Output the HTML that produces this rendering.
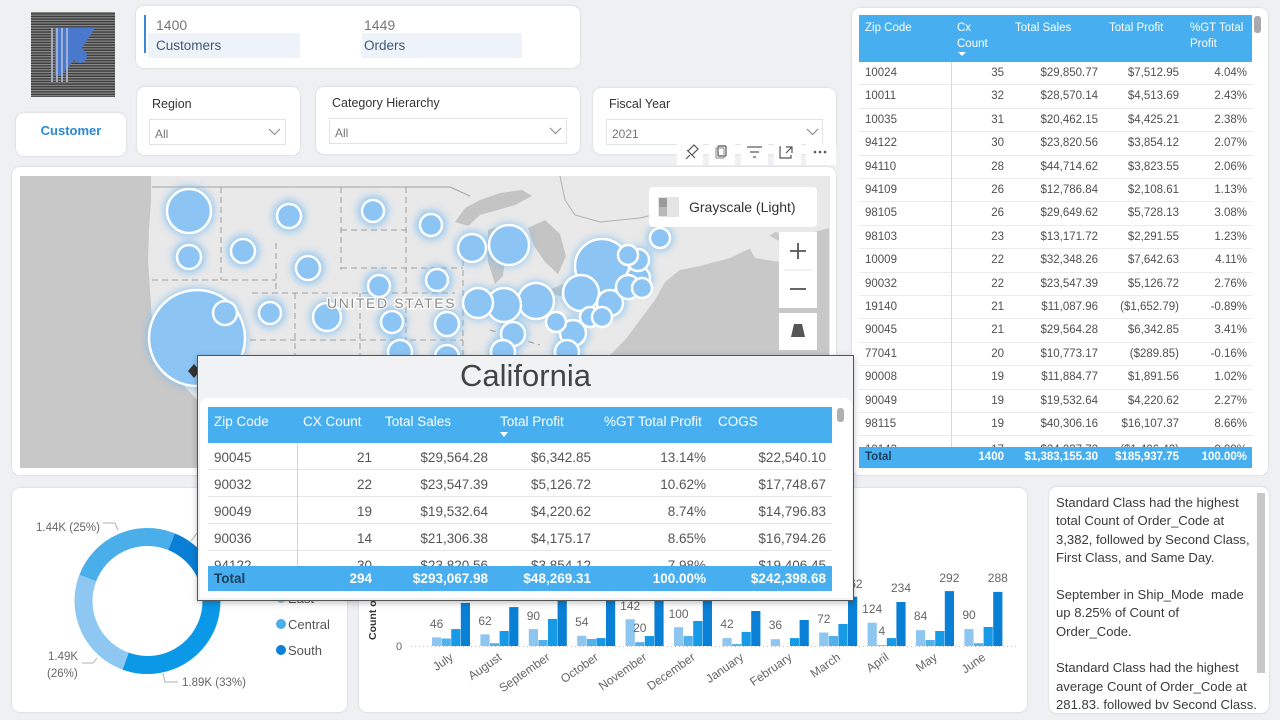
<!DOCTYPE html>
<html><head><meta charset="utf-8">
<style>
*{margin:0;padding:0;box-sizing:border-box}
body{width:1280px;height:720px;background:#eef0f3;font-family:"Liberation Sans",sans-serif;position:relative;overflow:hidden;color:#333}
.card{position:absolute;background:#fff;border-radius:8px;box-shadow:0 0 2px rgba(0,0,0,.16)}
.abs{position:absolute}
.lbl{position:absolute;font-size:12.5px;color:#333;white-space:nowrap}
.dd{position:absolute;background:#fff;border:1px solid #e4e4e4;font-size:12px;color:#777}
.dd span{position:absolute;left:5px;top:7px}
.dd svg{position:absolute;top:8px}
.rt{position:absolute;left:859px;top:15px;width:393px;height:453px;overflow:hidden;font-size:11.5px;color:#505050}
.rt .rw{position:absolute;left:0;width:393px;height:23.4px;line-height:23px;border-bottom:1px solid #ebebeb}
.rt span{position:absolute;white-space:nowrap}
.rt .a{left:6px}.rt .b{right:248px}.rt .c{right:154px}.rt .d{right:73px}.rt .e{right:5px}
.rh{position:absolute;left:0;top:0;width:393px;height:47px;background:#47aff0;color:#fff;line-height:16px}
.rh span{top:5px}
.rtot{position:absolute;left:0;top:432px;width:393px;height:21px;line-height:21px;background:#47aff0;color:#fff;font-weight:bold}
.pt{position:absolute;left:208px;top:407px;width:624px;height:184px;overflow:hidden;font-size:13.5px;color:#555}
.pt span{position:absolute;white-space:nowrap}
.pt .rw{position:absolute;left:0;width:624px;height:27px;line-height:29px;border-bottom:1px solid #e6e6e6}
.pt .a{left:6px}.pt .b{right:460px}.pt .c{right:344px}.pt .d{right:241px}.pt .e{right:126px}.pt .f{right:6px}
.ph{position:absolute;left:0;top:0;width:624px;height:36px;background:#47aff0;color:#fff}
.ph span{top:7px;line-height:16px}
.ptot{position:absolute;left:0;top:159px;width:624px;height:25px;line-height:25px;background:#47aff0;color:#fff;font-weight:bold}
.tx{position:absolute;left:1056px;font-size:13.1px;color:#3c3c3c;white-space:nowrap}
</style></head><body>

<!-- Logo -->
<svg class="abs" style="left:31px;top:12px" width="84" height="85" viewBox="0 0 84 85">
<defs><pattern id="ln" width="84" height="2.6" patternUnits="userSpaceOnUse"><rect y="0" width="84" height="1.1" fill="#8e8e8e"/></pattern></defs>
<rect width="84" height="85" fill="#3e3e3e"/>
<rect width="84" height="85" fill="url(#ln)"/>
<polygon points="24,16 64,16 43,48 30,64 24,64" fill="#4a78cc"/>
<g stroke="#b4bfd6" stroke-width="1.6"><line x1="21" y1="16" x2="21" y2="70"/><line x1="26" y1="16" x2="26" y2="70"/><line x1="31" y1="16" x2="31" y2="70"/><line x1="36" y1="16" x2="36" y2="70"/></g>
<circle cx="49" cy="44" r="7" fill="#4a78cc"/>
</svg>

<!-- KPI card -->
<div class="card" style="left:136px;top:6px;width:444px;height:62px"></div>
<div class="abs" style="left:144px;top:15px;width:2px;height:38px;background:#3a86d6"></div>
<div class="abs" style="left:148px;top:33px;width:152px;height:25px;background:#eef3f9"></div>
<div class="abs" style="left:362px;top:33px;width:160px;height:25px;background:#eef3f9"></div>
<div class="abs" style="left:156px;top:17px;font-size:14px;color:#777">1400</div>
<div class="abs" style="left:156px;top:38px;font-size:13.5px;color:#3f5a78">Customers</div>
<div class="abs" style="left:364px;top:17px;font-size:14px;color:#777">1449</div>
<div class="abs" style="left:364px;top:38px;font-size:13.5px;color:#3f5a78">Orders</div>

<!-- Customer button -->
<div class="card" style="left:16px;top:113px;width:110px;height:43px"></div>
<div class="abs" style="left:16px;top:123px;width:110px;text-align:center;font-size:13px;font-weight:bold;color:#2b88d8">Customer</div>

<!-- Region -->
<div class="card" style="left:137px;top:87px;width:163px;height:68px"></div>
<div class="lbl" style="left:152px;top:97px">Region</div>
<div class="dd" style="left:149px;top:119px;width:137px;height:26px"><span>All</span>
<svg style="left:118px" width="13" height="8"><polyline points="1,1 6.5,6.5 12,1" fill="none" stroke="#888" stroke-width="1.1"/></svg></div>

<!-- Category -->
<div class="card" style="left:316px;top:87px;width:264px;height:67px"></div>
<div class="lbl" style="left:332px;top:96px">Category Hierarchy</div>
<div class="dd" style="left:329px;top:118px;width:238px;height:26px"><span>All</span>
<svg style="left:219px" width="13" height="8"><polyline points="1,1 6.5,6.5 12,1" fill="none" stroke="#888" stroke-width="1.1"/></svg></div>

<!-- Fiscal -->
<div class="card" style="left:593px;top:88px;width:243px;height:66px"></div>
<div class="lbl" style="left:609px;top:97px">Fiscal Year</div>
<div class="dd" style="left:606px;top:119px;width:217px;height:26px"><span>2021</span>
<svg style="left:199px" width="13" height="8"><polyline points="1,1 6.5,6.5 12,1" fill="none" stroke="#888" stroke-width="1.1"/></svg></div>

<!-- Map card -->
<div class="card" style="left:12px;top:167px;width:824px;height:308px"></div>

<!-- header icons -->
<svg class="abs" style="left:676px;top:142px" width="162" height="24" viewBox="676 142 162 24">
<rect x="677" y="143" width="26" height="22" fill="#fff"/><rect x="709" y="143" width="26" height="22" fill="#fff"/>
<rect x="741" y="143" width="27" height="22" fill="#fff"/><rect x="774" y="143" width="27" height="22" fill="#fff"/><rect x="806" y="143" width="30" height="22" fill="#fff"/>
<g fill="none" stroke="#555" stroke-width="1.2">
<path d="M686,159 L690,155 M688,151 L694,145 L698,149 L692,155 Z M687,150 L695,158"/>
<rect x="718" y="146" width="8" height="10" rx="1"/><rect x="716" y="148" width="8" height="10" rx="1" stroke="#999"/>
<line x1="747" y1="147" x2="762" y2="147"/><line x1="750" y1="152" x2="759" y2="152"/><line x1="753" y1="157" x2="756" y2="157"/>
<path d="M781,147 h-1 v11 h11 v-3 M786,147 h6 v6 M792,147 l-6,6"/>
</g>
<g fill="#555"><circle cx="815" cy="152" r="1.3"/><circle cx="820" cy="152" r="1.3"/><circle cx="825" cy="152" r="1.3"/></g>
</svg>

<!-- Map -->
<svg class="abs" style="left:20px;top:176px" width="810" height="292" viewBox="20 176 810 292">
<defs><filter id="gl" x="-50%" y="-50%" width="200%" height="200%"><feGaussianBlur stdDeviation="4"/></filter></defs>
<rect x="20" y="176" width="810" height="292" fill="#e9e9e9"/>
<polygon points="20,176 151,176 151,200 149,230 148,260 150,290 152,320 170,370 197,400 197,468 20,468" fill="#c8c8c8"/>
<polygon points="829,228 800,236 775,232 755,246 730,258 700,266 680,270 665,282 655,300 640,320 625,340 610,355 600,370 829,370" fill="#c8c8c8"/>
<polygon points="745,240 770,236 795,250 780,262 755,258" fill="#e9e9e9"/>
<polygon points="455,222 465,208 480,200 500,193 522,190 532,196 515,205 498,210 480,215 468,226" fill="#c4c4c4"/>
<polygon points="488,230 500,226 506,250 503,276 495,284 488,262" fill="#c4c4c4"/>
<polygon points="528,228 545,220 560,234 566,256 558,274 545,262 534,246" fill="#c4c4c4"/>
<polygon points="545,292 570,281 592,274 586,286 560,296" fill="#c4c4c4"/>
<polygon points="588,268 605,262 622,262 613,270 595,273" fill="#c4c4c4"/>
<polyline points="152,187 450,187 470,196" fill="none" stroke="#a5a5a5" stroke-width="1"/>
<polyline points="560,176 565,200 575,215 600,222 640,218 680,208" fill="none" stroke="#b0b0b0" stroke-width="1"/>
<g fill="none" stroke="#a0a0a0" stroke-width="1" stroke-dasharray="6 4">
<line x1="221" y1="187" x2="221" y2="280"/><line x1="152" y1="280" x2="276" y2="280"/>
<line x1="276" y1="243" x2="276" y2="293"/><line x1="341" y1="187" x2="341" y2="270"/>
<line x1="341" y1="230" x2="410" y2="230"/><line x1="406" y1="187" x2="406" y2="340"/>
<line x1="341" y1="268" x2="463" y2="268"/><line x1="252" y1="293" x2="455" y2="293"/>
<line x1="295" y1="293" x2="295" y2="355"/><line x1="250" y1="340" x2="463" y2="340"/>
<line x1="360" y1="293" x2="360" y2="355"/><line x1="463" y1="260" x2="463" y2="355"/>
<line x1="520" y1="300" x2="560" y2="300"/><line x1="490" y1="330" x2="540" y2="345"/>
</g>
<g filter="url(#gl)" fill="#6fb9f3" opacity="0.75">
<circle cx="189" cy="211" r="25"/><circle cx="189" cy="257" r="16"/><circle cx="243" cy="251" r="16"/><circle cx="289" cy="216" r="16"/><circle cx="373" cy="211" r="15"/><circle cx="431" cy="225" r="15"/><circle cx="472" cy="248" r="17"/><circle cx="509" cy="245" r="22"/><circle cx="308" cy="268" r="16"/><circle cx="379" cy="286" r="15"/><circle cx="437" cy="280" r="15"/><circle cx="225" cy="313" r="15"/><circle cx="270" cy="313" r="15"/><circle cx="327" cy="317" r="17"/><circle cx="392" cy="322" r="15"/><circle cx="447" cy="324" r="15"/><circle cx="478" cy="303" r="17"/><circle cx="504" cy="305" r="19"/><circle cx="536" cy="301" r="20"/><circle cx="513" cy="334" r="15"/><circle cx="503" cy="352" r="15"/><circle cx="400" cy="352" r="15"/><circle cx="447" cy="357" r="15"/><circle cx="581" cy="293" r="20"/><circle cx="602" cy="266" r="29"/><circle cx="573" cy="333" r="16"/><circle cx="610" cy="303" r="16"/><circle cx="638" cy="260" r="14"/><circle cx="660" cy="238" r="13"/><circle cx="638" cy="278" r="15"/><circle cx="567" cy="352" r="15"/><circle cx="197" cy="338" r="50"/>
</g>
<g fill="#8cc4f4" stroke="#fff" stroke-width="2.5">
<circle cx="197" cy="338" r="48"/><circle cx="602" cy="266" r="27"/><circle cx="189" cy="211" r="22"/><circle cx="509" cy="245" r="20"/>
<circle cx="581" cy="293" r="18"/><circle cx="536" cy="301" r="18"/><circle cx="504" cy="305" r="17"/><circle cx="478" cy="303" r="15"/>
<circle cx="472" cy="248" r="14"/><circle cx="327" cy="317" r="14"/><circle cx="573" cy="333" r="13"/><circle cx="610" cy="303" r="13"/>
<circle cx="189" cy="257" r="12"/><circle cx="243" cy="251" r="12"/><circle cx="289" cy="216" r="12"/><circle cx="308" cy="268" r="12"/>
<circle cx="225" cy="313" r="12"/><circle cx="447" cy="324" r="12"/><circle cx="513" cy="334" r="12"/><circle cx="503" cy="352" r="12"/>
<circle cx="400" cy="352" r="12"/><circle cx="447" cy="357" r="12"/><circle cx="638" cy="278" r="12"/><circle cx="628" cy="287" r="12"/>
<circle cx="567" cy="352" r="12"/><circle cx="373" cy="211" r="11"/><circle cx="431" cy="225" r="11"/><circle cx="379" cy="286" r="11"/>
<circle cx="437" cy="280" r="11"/><circle cx="270" cy="313" r="11"/><circle cx="392" cy="322" r="11"/><circle cx="638" cy="260" r="11"/>
<circle cx="556" cy="322" r="10"/><circle cx="590" cy="317" r="10"/><circle cx="602" cy="317" r="10"/><circle cx="628" cy="255" r="10"/>
<circle cx="660" cy="238" r="10"/><circle cx="642" cy="288" r="10"/>
</g>
<text x="327" y="308" font-family="Liberation Sans" font-size="14" letter-spacing="1.6" fill="#8a8a8a" stroke="#fff" stroke-width="2.5" paint-order="stroke">UNITED STATES</text>
<polygon points="194,364 200,371 194,378 188,371" fill="#333"/>
<!-- grayscale button -->
<rect x="649" y="187" width="168" height="40" rx="4" fill="#fff"/>
<rect x="658" y="197" width="21" height="20" rx="2" fill="#e4e4e4"/>
<rect x="659" y="198" width="8" height="9" fill="#9a9a9a"/><rect x="659" y="207" width="8" height="9" fill="#b8b8b8"/>
<text x="689" y="212" font-family="Liberation Sans" font-size="14" fill="#333">Grayscale (Light)</text>
<rect x="779" y="232" width="38" height="76" fill="#fff"/>
<line x1="784" y1="270" x2="812" y2="270" stroke="#e6e6e6"/>
<path d="M798,243 v16 M790,251 h16" stroke="#555" stroke-width="1.8"/>
<path d="M790,289 h16" stroke="#555" stroke-width="1.8"/>
<rect x="779" y="313" width="38" height="37" fill="#fff"/>
<polygon points="794,324 802,324 805,337 791,337" fill="#555"/>
</svg>

<!-- Right table card -->
<div class="card" style="left:852px;top:8px;width:416px;height:467px"></div>
<div class="rt">
<div class="rh"><span class="a">Zip Code</span><span style="left:98px">Cx<br>Count</span><span style="left:156px">Total Sales</span><span style="left:250px">Total Profit</span><span style="left:331px">%GT Total<br>Profit</span>
<div style="position:absolute;left:99px;top:37px;width:0;height:0;border-left:4px solid transparent;border-right:4px solid transparent;border-top:4px solid #fff"></div></div>
<div class="rw" style="top:47px"><span class="a">10024</span><span class="b">35</span><span class="c">$29,850.77</span><span class="d">$7,512.95</span><span class="e">4.04%</span></div>
<div class="rw" style="top:70.4px"><span class="a">10011</span><span class="b">32</span><span class="c">$28,570.14</span><span class="d">$4,513.69</span><span class="e">2.43%</span></div>
<div class="rw" style="top:93.8px"><span class="a">10035</span><span class="b">31</span><span class="c">$20,462.15</span><span class="d">$4,425.21</span><span class="e">2.38%</span></div>
<div class="rw" style="top:117.2px"><span class="a">94122</span><span class="b">30</span><span class="c">$23,820.56</span><span class="d">$3,854.12</span><span class="e">2.07%</span></div>
<div class="rw" style="top:140.6px"><span class="a">94110</span><span class="b">28</span><span class="c">$44,714.62</span><span class="d">$3,823.55</span><span class="e">2.06%</span></div>
<div class="rw" style="top:164px"><span class="a">94109</span><span class="b">26</span><span class="c">$12,786.84</span><span class="d">$2,108.61</span><span class="e">1.13%</span></div>
<div class="rw" style="top:187.4px"><span class="a">98105</span><span class="b">26</span><span class="c">$29,649.62</span><span class="d">$5,728.13</span><span class="e">3.08%</span></div>
<div class="rw" style="top:210.8px"><span class="a">98103</span><span class="b">23</span><span class="c">$13,171.72</span><span class="d">$2,291.55</span><span class="e">1.23%</span></div>
<div class="rw" style="top:234.2px"><span class="a">10009</span><span class="b">22</span><span class="c">$32,348.26</span><span class="d">$7,642.63</span><span class="e">4.11%</span></div>
<div class="rw" style="top:257.6px"><span class="a">90032</span><span class="b">22</span><span class="c">$23,547.39</span><span class="d">$5,126.72</span><span class="e">2.76%</span></div>
<div class="rw" style="top:281px"><span class="a">19140</span><span class="b">21</span><span class="c">$11,087.96</span><span class="d">($1,652.79)</span><span class="e">-0.89%</span></div>
<div class="rw" style="top:304.4px"><span class="a">90045</span><span class="b">21</span><span class="c">$29,564.28</span><span class="d">$6,342.85</span><span class="e">3.41%</span></div>
<div class="rw" style="top:327.8px"><span class="a">77041</span><span class="b">20</span><span class="c">$10,773.17</span><span class="d">($289.85)</span><span class="e">-0.16%</span></div>
<div class="rw" style="top:351.2px"><span class="a">90008</span><span class="b">19</span><span class="c">$11,884.77</span><span class="d">$1,891.56</span><span class="e">1.02%</span></div>
<div class="rw" style="top:374.6px"><span class="a">90049</span><span class="b">19</span><span class="c">$19,532.64</span><span class="d">$4,220.62</span><span class="e">2.27%</span></div>
<div class="rw" style="top:398px"><span class="a">98115</span><span class="b">19</span><span class="c">$40,306.16</span><span class="d">$16,107.37</span><span class="e">8.66%</span></div>
<div class="rw" style="top:424px"><span class="a">10143</span><span class="b">17</span><span class="c">$24,037.72</span><span class="d">($1,406.42)</span><span class="e">-0.99%</span></div>
<div style="position:absolute;left:92px;top:47px;width:1px;height:385px;background:#c0dff3"></div>
<div class="rtot"><span class="a" style="color:#1f3d5c">Total</span><span class="b">1400</span><span class="c">$1,383,155.30</span><span class="d">$185,937.75</span><span class="e">100.00%</span></div>
</div>
<div class="abs" style="left:1254px;top:16px;width:7px;height:17px;border-radius:3px;background:#a9a9a9"></div>

<!-- Donut card -->
<div class="card" style="left:12px;top:488px;width:335px;height:224px"></div>
<svg class="abs" style="left:12px;top:488px" width="335" height="224" viewBox="12 488 335 224" font-family="Liberation Sans">
<g fill="none" stroke-width="18">
<circle cx="147.5" cy="601" r="64" stroke="#0a7fd6" stroke-dasharray="65.9 402.1" transform="rotate(-68 147.5 601)"/>
<circle cx="147.5" cy="601" r="64" stroke="#0b98e6" stroke-dasharray="132.9 402.1" transform="rotate(-9 147.5 601)"/>
<circle cx="147.5" cy="601" r="64" stroke="#8dc7f2" stroke-dasharray="101.6 402.1" transform="rotate(110 147.5 601)"/>
<circle cx="147.5" cy="601" r="64" stroke="#4aaeea" stroke-dasharray="101.6 402.1" transform="rotate(201 147.5 601)"/>
</g>
<g fill="none" stroke="#b0b0b0" stroke-width="1">
<polyline points="103,523 115,523 118,530"/><polyline points="82,663 93,663 97,658"/><polyline points="163,673 165,682 178,682"/><polyline points="191,541 197,533"/>
</g>
<g font-size="11.5" fill="#666">
<text x="36" y="531">1.44K (25%)</text>
<text x="48" y="660">1.49K</text><text x="47" y="677">(26%)</text>
<text x="182" y="686">1.89K (33%)</text>
</g>
<g font-size="13" fill="#555">
<circle cx="281" cy="598" r="5" fill="#8dc7f2"/><text x="288" y="603">East</text>
<circle cx="281" cy="624" r="5" fill="#4aaeea"/><text x="288" y="629">Central</text>
<circle cx="281" cy="650" r="5" fill="#0a80d8"/><text x="288" y="655">South</text>
</g>
</svg>

<!-- Bar chart card -->
<div class="card" style="left:359px;top:488px;width:668px;height:224px"></div>
<svg class="abs" style="left:359px;top:488px" width="668" height="224" viewBox="359 488 668 224" font-family="Liberation Sans">
<line x1="411" y1="646.5" x2="1018" y2="646.5" stroke="#c4c4c4" stroke-dasharray="1 3"/>
<text x="399" y="650" font-size="11" fill="#666" text-anchor="middle">0</text>
<text transform="translate(376,640) rotate(-90)" font-size="10.5" font-weight="bold" fill="#333">Count of Order_Code</text>
<g fill="#8cc6f1">
<rect x="432" y="637.4" width="9.2" height="8.6"/><rect x="480.4" y="634.3" width="9.2" height="11.7"/><rect x="528.8" y="629.1" width="9.2" height="16.9"/><rect x="577.2" y="635.8" width="9.2" height="10.2"/><rect x="625.6" y="619.3" width="9.2" height="26.7"/><rect x="674" y="627.2" width="9.2" height="18.8"/><rect x="722.4" y="638.1" width="9.2" height="7.9"/><rect x="770.8" y="639.2" width="9.2" height="6.8"/><rect x="819.2" y="632.5" width="9.2" height="13.5"/><rect x="867.6" y="622.7" width="9.2" height="23.3"/><rect x="916" y="630.2" width="9.2" height="15.8"/><rect x="964.4" y="629.1" width="9.2" height="16.9"/>
</g>
<g fill="#52b0ea">
<rect x="441.6" y="638.5" width="9.2" height="7.5"/><rect x="490" y="643.2" width="9.2" height="2.8"/><rect x="538.4" y="640" width="9.2" height="6"/><rect x="586.8" y="639" width="9.2" height="7"/><rect x="635.2" y="642.2" width="9.2" height="3.8"/><rect x="683.6" y="636" width="9.2" height="10"/><rect x="732" y="644.1" width="9.2" height="1.9"/><rect x="828.8" y="636" width="9.2" height="10"/><rect x="877.2" y="645.2" width="9.2" height="0.8"/><rect x="925.6" y="640" width="9.2" height="6"/><rect x="974" y="643.2" width="9.2" height="2.8"/>
</g>
<g fill="#1699e6">
<rect x="451.2" y="629.1" width="9.2" height="16.9"/><rect x="499.6" y="631" width="9.2" height="15"/><rect x="548" y="618.9" width="9.2" height="27.1"/><rect x="596.4" y="638.1" width="9.2" height="7.9"/><rect x="644.8" y="636" width="9.2" height="10"/><rect x="693.2" y="621" width="9.2" height="25"/><rect x="741.6" y="631.9" width="9.2" height="14.1"/><rect x="790" y="638.1" width="9.2" height="7.9"/><rect x="838.4" y="624" width="9.2" height="22"/><rect x="886.8" y="638.1" width="9.2" height="7.9"/><rect x="935.2" y="631" width="9.2" height="15"/><rect x="983.6" y="627" width="9.2" height="19"/>
</g>
<g fill="#0a7fd6">
<rect x="460.8" y="602.9" width="9.2" height="43.1"/><rect x="509.2" y="607.1" width="9.2" height="38.9"/><rect x="557.6" y="589.6" width="9.2" height="56.4"/><rect x="606" y="593.4" width="9.2" height="52.6"/><rect x="654.4" y="589.6" width="9.2" height="56.4"/><rect x="702.8" y="589.6" width="9.2" height="56.4"/><rect x="751.2" y="611" width="9.2" height="35"/><rect x="799.6" y="620" width="9.2" height="26"/><rect x="848" y="596.7" width="9.2" height="49.3"/><rect x="896.4" y="602" width="9.2" height="44"/><rect x="944.8" y="591.1" width="9.2" height="54.9"/><rect x="993.2" y="591.9" width="9.2" height="54.1"/>
</g>
<g font-size="12" fill="#666" text-anchor="middle">
<text x="436.6" y="628">46</text><text x="485" y="625">62</text><text x="533.4" y="620">90</text><text x="581.8" y="626">54</text><text x="630.2" y="610">142</text><text x="678.6" y="618">100</text><text x="727" y="628">42</text><text x="775.4" y="629">36</text><text x="823.8" y="623">72</text><text x="872.2" y="613">124</text><text x="920.6" y="620">84</text><text x="969" y="619">90</text>
<text x="639.8" y="632">20</text><text x="881.8" y="635">4</text>
<text x="852.6" y="588">262</text><text x="901" y="592">234</text><text x="949.4" y="582">292</text><text x="997.8" y="582">288</text>
</g>
<g font-size="12" fill="#666" text-anchor="end">
<text transform="translate(454,659) rotate(-35)">July</text>
<text transform="translate(502.4,659) rotate(-35)">August</text>
<text transform="translate(550.8,659) rotate(-35)">September</text>
<text transform="translate(599.2,659) rotate(-35)">October</text>
<text transform="translate(647.6,659) rotate(-35)">November</text>
<text transform="translate(696,659) rotate(-35)">December</text>
<text transform="translate(744.4,659) rotate(-35)">January</text>
<text transform="translate(792.8,659) rotate(-35)">February</text>
<text transform="translate(841.2,659) rotate(-35)">March</text>
<text transform="translate(889.6,659) rotate(-35)">April</text>
<text transform="translate(938,659) rotate(-35)">May</text>
<text transform="translate(986.4,659) rotate(-35)">June</text>
</g>
</svg>

<!-- Text card -->
<div class="card" style="left:1049px;top:487px;width:220px;height:226px"></div>
<div class="abs" style="left:1257px;top:493px;width:8px;height:180px;background:#c8c8c8"></div>
<div class="tx" style="top:495px">Standard Class had the highest</div>
<div class="tx" style="top:513px">total Count of Order_Code at</div>
<div class="tx" style="top:532px">3,382, followed by Second Class,</div>
<div class="tx" style="top:550px">First Class, and Same Day.</div>
<div class="tx" style="top:587px">September in Ship_Mode&nbsp; made</div>
<div class="tx" style="top:605px">up 8.25% of Count of</div>
<div class="tx" style="top:624px">Order_Code.</div>
<div class="tx" style="top:660px">Standard Class had the highest</div>
<div class="tx" style="top:679px">average Count of Order_Code at</div>
<div class="tx" style="top:697px">281.83. followed bv Second Class.</div>

<!-- Popup -->
<div class="abs" style="left:197px;top:355px;width:657px;height:246px;background:#f1f2f4;border:1px solid #555;box-shadow:0 2px 6px rgba(0,0,0,.25)"></div>
<div class="abs" style="left:198px;top:358px;width:655px;text-align:center;font-size:31px;color:#444">California</div>
<div class="abs" style="left:200px;top:398px;width:652px;height:200px;background:#fff;border-radius:8px 8px 0 0"></div>
<div class="pt">
<div class="ph"><span class="a">Zip Code</span><span style="left:95px">CX Count</span><span style="left:177px">Total Sales</span><span style="left:292px">Total Profit</span><span style="left:396px">%GT Total Profit</span><span style="left:510px">COGS</span>
<div style="position:absolute;left:292px;top:25px;width:0;height:0;border-left:4px solid transparent;border-right:4px solid transparent;border-top:5px solid #fff"></div></div>
<div class="rw" style="top:36px"><span class="a">90045</span><span class="b">21</span><span class="c">$29,564.28</span><span class="d">$6,342.85</span><span class="e">13.14%</span><span class="f">$22,540.10</span></div>
<div class="rw" style="top:63px"><span class="a">90032</span><span class="b">22</span><span class="c">$23,547.39</span><span class="d">$5,126.72</span><span class="e">10.62%</span><span class="f">$17,748.67</span></div>
<div class="rw" style="top:90px"><span class="a">90049</span><span class="b">19</span><span class="c">$19,532.64</span><span class="d">$4,220.62</span><span class="e">8.74%</span><span class="f">$14,796.83</span></div>
<div class="rw" style="top:117px"><span class="a">90036</span><span class="b">14</span><span class="c">$21,306.38</span><span class="d">$4,175.17</span><span class="e">8.65%</span><span class="f">$16,794.26</span></div>
<div class="rw" style="top:144px"><span class="a">94122</span><span class="b">30</span><span class="c">$23,820.56</span><span class="d">$3,854.12</span><span class="e">7.98%</span><span class="f">$19,406.45</span></div>
<div style="position:absolute;left:89px;top:36px;width:1px;height:123px;background:#b9dcf2"></div>
<div class="ptot"><span class="a" style="color:#1f3d5c">Total</span><span class="b">294</span><span class="c">$293,067.98</span><span class="d">$48,269.31</span><span class="e">100.00%</span><span class="f">$242,398.68</span></div>
</div>
<div class="abs" style="left:837px;top:408px;width:7px;height:14px;border-radius:3px;background:#b0b0b0"></div>

</body></html>
